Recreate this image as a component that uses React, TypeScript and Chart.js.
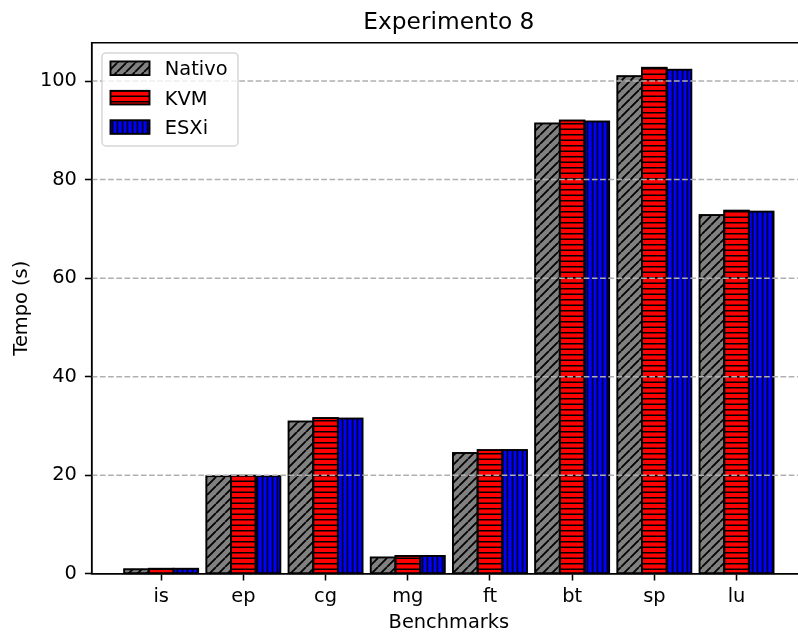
import React, { useEffect, useRef } from "react";
import { Chart, registerables } from "chart.js";

Chart.register(...registerables);

const categories = ["is", "ep", "cg", "mg", "ft", "bt", "sp", "lu"];
const seriesNames = ["Nativo", "KVM", "ESXi"];
const nativo = [0.9, 19.8, 30.9, 3.3, 24.5, 91.4, 101.0, 72.8];
const kvm = [1.0, 19.9, 31.6, 3.6, 25.1, 92.0, 102.7, 73.7];
const esxi = [1.0, 19.8, 31.5, 3.6, 25.1, 91.8, 102.3, 73.5];
const yTicks = [0, 20, 40, 60, 80, 100];
const titleText = "Experimento 8";
const xLabel = "Benchmarks";
const yLabel = "Tempo (s)";

const FONT = "'DejaVu Sans', 'Liberation Sans', sans-serif";

function hatch(kind: string, fill: string): CanvasPattern {
  const size = kind === "diag" ? 9 : kind === "h" ? 11 : 10;
  const c = document.createElement("canvas");
  c.width = size;
  c.height = size;
  const g = c.getContext("2d")!;
  g.fillStyle = fill;
  g.fillRect(0, 0, size, size);
  g.strokeStyle = "#000";
  g.lineWidth = kind === "diag" ? 1.8 : 1.6;
  g.beginPath();
  if (kind === "diag") {
    for (let k = -1; k <= 1; k++) {
      g.moveTo(k * size, size);
      g.lineTo(k * size + size, 0);
    }
  } else if (kind === "h") {
    for (const y of [2.75, 8.25]) {
      g.moveTo(0, y);
      g.lineTo(size, y);
    }
  } else {
    for (const x of [2.5, 7.5]) {
      g.moveTo(x, 0);
      g.lineTo(x, size);
    }
  }
  g.stroke();
  return g.createPattern(c, "repeat")!;
}

const overlayPlugin = {
  id: "overlay",
  afterDatasetsDraw(chart: any) {
    const { ctx, chartArea, scales } = chart;
    ctx.save();
    // bar edges, centred on each bar's outline (as the original does)
    ctx.strokeStyle = "#000";
    ctx.lineWidth = 1.9;
    ctx.lineJoin = "miter";
    chart.data.datasets.forEach((_: any, di: number) => {
      const meta = chart.getDatasetMeta(di);
      meta.data.forEach((bar: any) => {
        const { x, y, base, width } = bar.getProps(["x", "y", "base", "width"], true);
        const left = x - width / 2;
        const top = Math.min(y, base);
        const h = Math.abs(base - y);
        ctx.strokeRect(left, top, width, h);
      });
    });
    // dashed grid lines on top of bars
    ctx.strokeStyle = "#b0b0b0";
    ctx.lineWidth = 1.5;
    ctx.setLineDash([5.7, 2.5]);
    for (const v of yTicks) {
      if (v === 0) continue;
      const yy = scales.y.getPixelForValue(v);
      ctx.beginPath();
      ctx.moveTo(chartArea.left, yy);
      ctx.lineTo(chartArea.right, yy);
      ctx.stroke();
    }
    ctx.setLineDash([]);
    // top spine and axes on top
    ctx.strokeStyle = "#000";
    ctx.lineWidth = 1.55;
    ctx.beginPath();
    ctx.moveTo(chartArea.left - 0.8, chartArea.top);
    ctx.lineTo(chartArea.right, chartArea.top);
    ctx.moveTo(chartArea.left, chartArea.top);
    ctx.lineTo(chartArea.left, chartArea.bottom + 0.8);
    ctx.moveTo(chartArea.left - 0.8, chartArea.bottom);
    ctx.lineTo(chartArea.right, chartArea.bottom);
    ctx.stroke();
    ctx.restore();
  },
  afterDraw(chart: any) {
    const { ctx, chartArea } = chart;
    ctx.save();
    const fx = chartArea.left + 10.3;
    const fy = chartArea.top + 10.3;
    const fw = 136;
    const fh = 93;
    const r = 4;
    ctx.beginPath();
    ctx.moveTo(fx + r, fy);
    ctx.lineTo(fx + fw - r, fy);
    ctx.arcTo(fx + fw, fy, fx + fw, fy + r, r);
    ctx.lineTo(fx + fw, fy + fh - r);
    ctx.arcTo(fx + fw, fy + fh, fx + fw - r, fy + fh, r);
    ctx.lineTo(fx + r, fy + fh);
    ctx.arcTo(fx, fy + fh, fx, fy + fh - r, r);
    ctx.lineTo(fx, fy + r);
    ctx.arcTo(fx, fy, fx + r, fy, r);
    ctx.closePath();
    ctx.fillStyle = "rgba(255,255,255,0.8)";
    ctx.fill();
    ctx.strokeStyle = "rgba(204,204,204,0.8)";
    ctx.lineWidth = 1.5;
    ctx.stroke();
    chart.data.datasets.forEach((ds: any, i: number) => {
      const cy = fy + 15.3 + i * 29.4;
      ctx.fillStyle = ds.backgroundColor;
      ctx.fillRect(fx + 8.5, cy - 6.8, 39, 13.6);
      ctx.strokeStyle = "#000";
      ctx.lineWidth = 1.9;
      ctx.strokeRect(fx + 8.5, cy - 6.8, 39, 13.6);
      ctx.fillStyle = "#000";
      ctx.font = `19.4px ${FONT}`;
      ctx.textAlign = "left";
      ctx.textBaseline = "alphabetic";
      ctx.fillText(ds.label, fx + 62.8, cy + 7.2);
    });
    ctx.restore();
  },
};

export default function App() {
  const ref = useRef<HTMLCanvasElement | null>(null);

  useEffect(() => {
    if (!ref.current) return;
    const patterns = [
      hatch("diag", "#808080"),
      hatch("h", "#ff0000"),
      hatch("v", "#0000ff"),
    ];
    const series = [nativo, kvm, esxi];
    const chart = new Chart(ref.current, {
      type: "bar",
      data: {
        datasets: series.map((vals, s) => ({
          label: seriesNames[s],
          data: vals.map((y, i) => ({ x: i, y })),
          backgroundColor: patterns[s],
          borderColor: "#000",
          borderWidth: 0,
          inflateAmount: 0.5,
          categoryPercentage: 0.9,
          barPercentage: 1.0,
        })),
      },
      options: {
        animation: false,
        responsive: true,
        maintainAspectRatio: false,
        layout: { padding: { left: 0, right: 8, top: 0, bottom: 0 } },
        font: { family: FONT },
        plugins: {
          legend: { display: false },
          tooltip: { enabled: false },
          title: {
            display: true,
            text: titleText,
            fullSize: false,
            color: "#000",
            font: { family: FONT, size: 23.3, weight: "normal" },
            padding: { top: 9, bottom: 5.7 },
          },
        },
        scales: {
          x: {
            type: "linear",
            min: -0.845,
            max: 7.845,
            offset: false,
            grid: {
              display: true,
              drawOnChartArea: false,
              drawTicks: true,
              tickLength: 6.8,
              tickWidth: 1.55,
              tickColor: "#000",
              offset: false,
            },
            border: { display: true, color: "#000", width: 1.55 },
            ticks: {
              autoSkip: false,
              maxRotation: 0,
              color: "#000",
              padding: 5,
              font: { family: FONT, size: 19.4 },
              callback: (v: any) => categories[Math.round(Number(v))] ?? "",
            },
            afterBuildTicks: (s: any) => {
              s.ticks = categories.map((_, i) => ({ value: i }));
            },
            afterFit: (s: any) => {
              s.height = 63.3;
            },
            title: {
              display: true,
              text: xLabel,
              color: "#000",
              font: { family: FONT, size: 19.4 },
              padding: { top: 0, bottom: 2.4 },
            },
          },
          y: {
            type: "linear",
            min: 0,
            max: 107.8,
            grid: {
              display: true,
              drawOnChartArea: false,
              drawTicks: true,
              tickLength: 6.8,
              tickWidth: 1.55,
              tickColor: "#000",
            },
            border: { display: true, color: "#000", width: 1.55 },
            ticks: {
              color: "#000",
              padding: 8,
              font: { family: FONT, size: 19.4 },
            },
            afterBuildTicks: (s: any) => {
              s.ticks = yTicks.map((v) => ({ value: v }));
            },
            afterFit: (s: any) => {
              s.width = 91.7;
            },
            title: {
              display: true,
              text: yLabel,
              color: "#000",
              font: { family: FONT, size: 19.4 },
              padding: { top: 10.6, bottom: 0 },
            },
          },
        },
      } as any,
      plugins: [overlayPlugin],
    });
    return () => chart.destroy();
  }, []);

  return (
    <div
      style={{
        position: "fixed",
        left: 0,
        top: 0,
        width: 798,
        height: 637,
        overflow: "hidden",
        background: "#fff",
      }}
    >
      <div style={{ position: "relative", width: 814, height: 637 }}>
        <canvas ref={ref} />
      </div>
    </div>
  );
}
